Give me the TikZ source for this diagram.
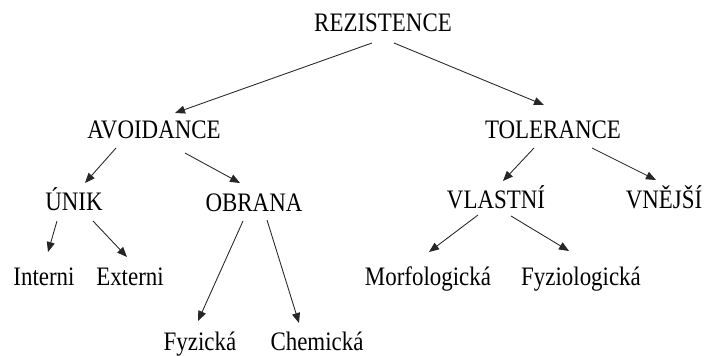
\documentclass[tikz,border=0pt]{standalone}
\usepackage{fontspec}
\setmainfont{Liberation Serif}
\newfontfamily\lblfont[FakeStretch=0.86]{Liberation Serif}
\usetikzlibrary{arrows.meta}

\tikzset{
  lbl/.style={anchor=base, inner sep=0pt, font=\lblfont\fontsize{20}{22}\selectfont},
  ptr/.style={-{Triangle[length=7.5pt,width=6pt]}, line width=0.65pt, black!85}
}

\begin{document}
\begin{tikzpicture}[x=0.75pt, y=-0.75pt]
            \useasboundingbox (0,0) rectangle (707,356);

            % Labels
            \node[lbl] (rez) at (383,32)  {REZISTENCE};
            \node[lbl] (avo) at (154,139) {AVOIDANCE};
            \node[lbl] (tol) at (553,139) {TOLERANCE};
            \node[lbl] (uni) at (74,211)  {ÚNIK};
            \node[lbl] (obr) at (254,212) {OBRANA};
            \node[lbl] (vla) at (496,209) {VLASTNÍ};
            \node[lbl] (vne) at (664,209) {VNĚJŠÍ};
            \node[lbl] (int) at (44,285)  {Interni};
            \node[lbl] (ext) at (130,285) {Externi};
            \node[lbl] (mor) at (428,286) {Morfologická};
            \node[lbl] (fzl) at (581,286) {Fyziologická};
            \node[lbl] (fyz) at (200,350) {Fyzická};
            \node[lbl] (che) at (317,350) {Chemická};

            % Arrows, top level
            \draw[ptr] ([shift={(-11,11)}]rez.base) -- ([shift={(21,-26)}]avo.base);
            \draw[ptr] ([shift={(11,11)}]rez.base)  -- ([shift={(-9,-34)}]tol.base);

            % Arrows, second level
            \draw[ptr] ([shift={(-38,9)}]avo.base) -- ([shift={(11,-28)}]uni.base);
            \draw[ptr] ([shift={(31,14)}]avo.base) -- ([shift={(-14,-29)}]obr.base);
            \draw[ptr] ([shift={(-19,9)}]tol.base) -- ([shift={(7,-28)}]vla.base);
            \draw[ptr] ([shift={(39,9)}]tol.base)  -- ([shift={(-8,-29)}]vne.base);

            % Arrows, third level
            \draw[ptr] ([shift={(-17,10)}]uni.base) -- ([shift={(4,-33)}]int.base);
            \draw[ptr] ([shift={(19,10)}]uni.base)  -- ([shift={(-3,-28)}]ext.base);
            \draw[ptr] ([shift={(-11,9)}]obr.base)  -- ([shift={(-2,-29)}]fyz.base);
            \draw[ptr] ([shift={(13,8)}]obr.base)   -- ([shift={(-18,-27)}]che.base);
            \draw[ptr] ([shift={(-18,6)}]vla.base)  -- ([shift={(1,-34)}]mor.base);
            \draw[ptr] ([shift={(15,7)}]vla.base)   -- ([shift={(-12,-35)}]fzl.base);
\end{tikzpicture}
\end{document}
